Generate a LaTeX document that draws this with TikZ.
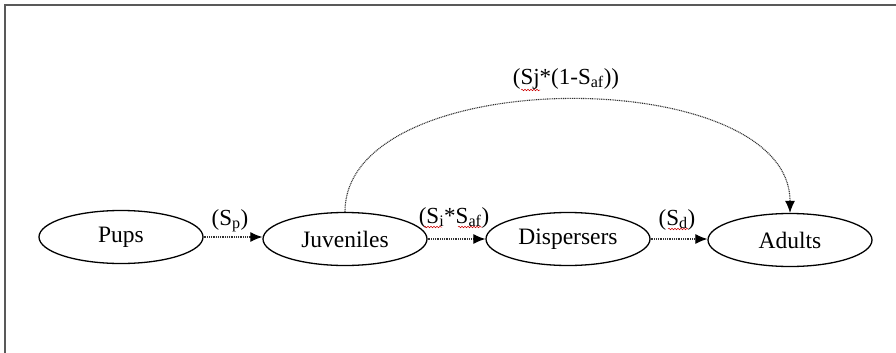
\documentclass[tikz,border=0pt]{standalone}
\usepackage{fontspec}
\setmainfont{Liberation Serif}
\usetikzlibrary{arrows.meta,decorations.pathmorphing,shapes.geometric}
\begin{document}
\begin{tikzpicture}[x=1pt,y=-1pt,
  stage/.style={draw=black,line width=1.3pt,ellipse,minimum width=164pt,minimum height=53pt,inner sep=0pt,font=\fontsize{23.5}{28}\selectfont},
  lab/.style={inner sep=0pt,font=\fontsize{23}{28}\selectfont},
  flow/.style={draw=black!80,line width=1.1pt,dash pattern=on 1pt off 0.8pt,-{Latex[length=12pt,width=10pt,black]}},
  squig/.style={draw=red!80!black,line width=0.5pt,decorate,decoration={snake,amplitude=0.8pt,segment length=3pt}},
  frame/.style={draw=black!65,line width=2pt}]
\useasboundingbox (0,0) rectangle (896,353);
\draw[frame] (5,353) -- (5,5) -- (896,5);
\node[stage] (pups) at (121,237) {Pups};
\node[stage] (juv)  at (345,239) {Juveniles};
\node[stage] (disp) at (568,239) {Dispersers};
\node[stage] (adu)  at (790,240) {Adults};
\draw[flow] (pups.east) -- (pups.east -| juv.west);
\draw[flow] (juv.east) -- (juv.east -| disp.west);
\draw[flow] (disp.east) -- (disp.east -| adu.west);
\draw[flow] (juv.north) .. controls +(0,-150) and +(0,-150) .. (adu.north);
\node[lab,anchor=base] (lsp) at (230,225) {(S\textsubscript{p})};
\node[lab,anchor=base] (lsi) at (454,223) {(S\textsubscript{i}*S\textsubscript{af})};
\node[lab,anchor=base] (lsd) at (677,225) {(S\textsubscript{d})};
\node[lab,anchor=base] (lsj) at (566,84) {(Sj*(1-S\textsubscript{af}))};
\draw[squig] (521,90) -- (540,90);
\draw[squig] (424,227) -- (442,227);
\draw[squig] (458,227) -- (482,227);
\draw[squig] (668,229) -- (688,229);
\end{tikzpicture}
\end{document}
